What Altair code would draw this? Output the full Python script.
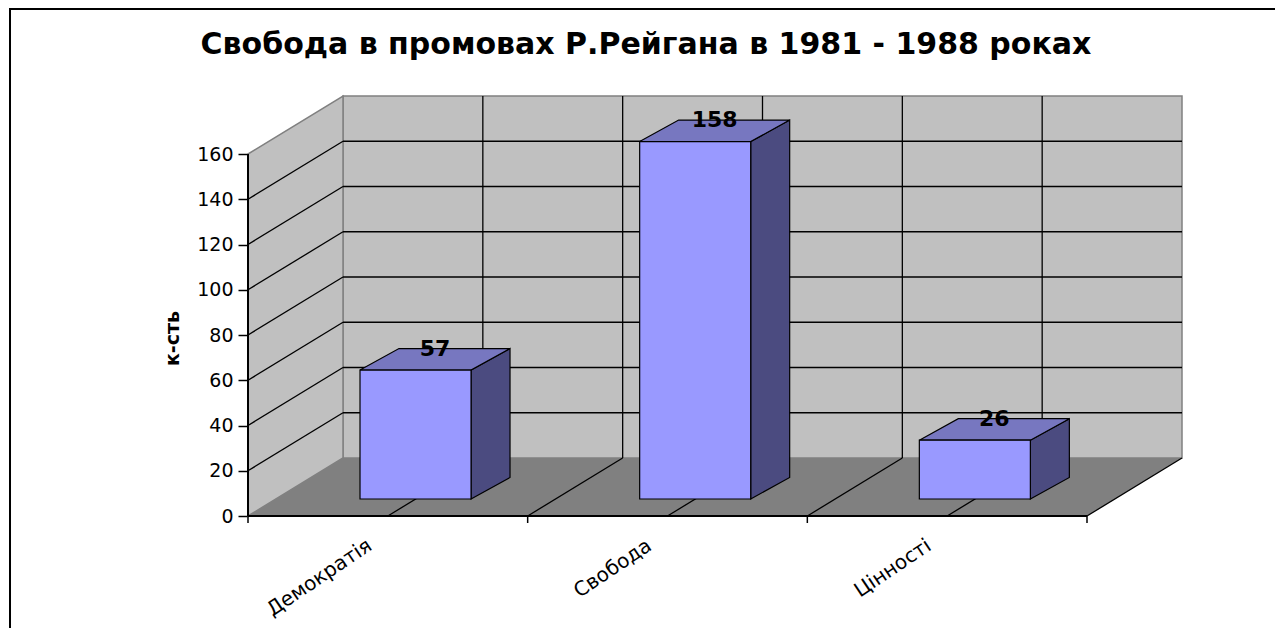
import json
import altair as alt
import pandas as pd

# ---------------- data ----------------
categories = ["Демократія", "Свобода", "Цінності"]
values = [57, 158, 26]
y_tick_values = [0, 20, 40, 60, 80, 100, 120, 140, 160]
chart_title = "Свобода в промовах Р.Рейгана в 1981 - 1988 роках"
y_title = "к-сть"

# ---------------- style / 3-D geometry constants ----------------
FONT = "DejaVu Sans"
N = len(categories)
YMAX = y_tick_values[-1]
WALL_DX = 0.3397     # depth of the chart box, in category units
WALL_DY = 25.64      # depth of the chart box, in value units
BAR_X0 = 0.4005      # bar front-face start inside its category
BAR_W = 0.397        # bar front-face width
BAR_Z = 7.51         # lift of the bar front face (its depth position)
BAR_DX = 0.1394      # bar depth, category units
BAR_DY = 9.5         # bar depth, value units
TICK_LEN = 3.1
XMAX = N + WALL_DX
YTOP = YMAX + WALL_DY
BORDER = dict(x=-0.851, x2=4.6, y=-80.0, y2=224.1)

WALL = "#c0c0c0"
FLOOR = "#808080"
EDGE = "#808080"
FRONT = "#9999ff"
TOPC = "#7777c0"
SIDE = "#4b4b80"

xs = alt.Scale(domain=[0, XMAX], nice=False, zero=False)
ys = alt.Scale(domain=[0, YTOP], nice=False, zero=False)

label_expr = json.dumps(categories, ensure_ascii=False) + "[floor(datum.value)]"

x_axis = alt.Axis(
    values=[i + 0.5 for i in range(N)], labelExpr=label_expr, ticks=False, tickSize=0,
    domain=False, grid=False, labelAngle=326, labelAlign="right", labelBaseline="top",
    labelFont=FONT, labelFontSize=20, labelColor="black", labelPadding=19,
    labelOffset=-24, labelOverlap=False, labelFlush=False, labelBound=False, title=None,
)
y_axis = alt.Axis(
    values=y_tick_values, domain=False, grid=False, ticks=True, tickSize=10,
    tickColor="black", tickWidth=1.5, labelFont=FONT, labelFontSize=19,
    labelColor="black", labelPadding=5, labelFlush=False, labelOverlap=False,
    title=y_title, titleFont=FONT, titleFontSize=19, titleFontWeight="bold",
    titleColor="black", titleAngle=270, titleX=-76, titleY=242,
    titleAlign="center", titleBaseline="middle",
)


def X(f):
    return alt.X(f, type="quantitative", scale=xs, axis=x_axis)


def Y(f):
    return alt.Y(f, type="quantitative", scale=ys, axis=y_axis, stack=None)


# ---------------- walls & floor ----------------
back_df = pd.DataFrame({"x": [WALL_DX], "x2": [XMAX], "y": [WALL_DY], "y2": [YTOP]})
back_wall = alt.Chart(back_df).mark_rect(fill=WALL, stroke=EDGE, strokeWidth=1.5).encode(
    x=X("x"), x2="x2:Q", y=Y("y"), y2="y2:Q"
)

left_df = pd.DataFrame({"x": [0, WALL_DX], "y": [0, WALL_DY], "y2": [YMAX, YTOP]})
left_wall = alt.Chart(left_df).mark_area(
    orient="vertical", fill=WALL, stroke=EDGE, strokeWidth=1.5
).encode(x=X("x"), y=Y("y"), y2="y2:Q")

floor_df = pd.DataFrame({
    "x": [0, WALL_DX, N, XMAX],
    "y": [0, 0, 0, WALL_DY],
    "y2": [0, WALL_DY, WALL_DY, WALL_DY],
})
floor = alt.Chart(floor_df).mark_area(orient="vertical", fill=FLOOR).encode(
    x=X("x"), y=Y("y"), y2="y2:Q"
)

# ---------------- grid lines, axis lines, ticks ----------------
segs = []
for v in y_tick_values[1:-1]:
    segs.append(dict(x=WALL_DX, x2=XMAX, y=v + WALL_DY, y2=v + WALL_DY, c="black", w=1.3))
    segs.append(dict(x=0, x2=WALL_DX, y=v, y2=v + WALL_DY, c="black", w=1.3))
for j in range(1, 2 * N):
    xv = WALL_DX + 0.5 * j
    segs.append(dict(x=xv, x2=xv, y=WALL_DY, y2=YTOP, c="black", w=1.3))
for j in range(1, 2 * N + 1):
    segs.append(dict(x=0.5 * j, x2=0.5 * j + WALL_DX, y=0, y2=WALL_DY, c="black", w=1.3))
segs.append(dict(x=0, x2=N, y=0, y2=0, c="black", w=2.2))
segs.append(dict(x=0, x2=0, y=0, y2=YMAX, c="black", w=2))
for i in range(N + 1):
    segs.append(dict(x=i, x2=i, y=0, y2=-TICK_LEN, c="black", w=1.5))
seg_df = pd.DataFrame(segs)
grid = alt.Chart(seg_df).mark_rule().encode(
    x=X("x"), x2="x2:Q", y=Y("y"), y2="y2:Q",
    color=alt.Color("c:N", scale=None),
    strokeWidth=alt.StrokeWidth("w:Q", scale=None),
)

# ---------------- bars ----------------
bar_rows, top_rows, side_rows = [], [], []
for i, (cat, v) in enumerate(zip(categories, values)):
    x0 = i + BAR_X0
    x1 = x0 + BAR_W
    t = v + BAR_Z
    bar_rows.append(dict(cat=cat, v=v, x0=x0, x1=x1, yb=BAR_Z, yt=t,
                         lx=x0 + BAR_W / 2 + BAR_DX / 2, ly=t + BAR_DY))
    for xx, lo, hi in [(x0, t, t), (x0 + BAR_DX, t, t + BAR_DY),
                       (x1, t, t + BAR_DY), (x1 + BAR_DX, t + BAR_DY, t + BAR_DY)]:
        top_rows.append(dict(cat=cat, x=xx, y=lo, y2=hi))
    for xx, lo, hi in [(x1, BAR_Z, t), (x1 + BAR_DX, BAR_Z + BAR_DY, t + BAR_DY)]:
        side_rows.append(dict(cat=cat, x=xx, y=lo, y2=hi))
bar_df = pd.DataFrame(bar_rows)
top_df = pd.DataFrame(top_rows)
side_df = pd.DataFrame(side_rows)

bar_side = alt.Chart(side_df).mark_area(
    orient="vertical", fill=SIDE, stroke="black", strokeWidth=1.2
).encode(x=X("x"), y=Y("y"), y2="y2:Q", detail="cat:N")

bar_top = alt.Chart(top_df).mark_area(
    orient="vertical", fill=TOPC, stroke="black", strokeWidth=1.2
).encode(x=X("x"), y=Y("y"), y2="y2:Q", detail="cat:N")

bar_front = alt.Chart(bar_df).mark_rect(fill=FRONT, stroke="black", strokeWidth=1.2).encode(
    x=X("x0"), x2="x1:Q", y=Y("yb"), y2="yt:Q"
)

labels = alt.Chart(bar_df).mark_text(
    font=FONT, fontSize=22, fontWeight="bold", color="black",
    align="center", baseline="middle"
).encode(x=X("lx"), y=Y("ly"), text="v:Q")

# ---------------- outer frame ----------------
frame_df = pd.DataFrame({k: [v] for k, v in BORDER.items()})
frame = alt.Chart(frame_df).mark_rect(fillOpacity=0, stroke="black", strokeWidth=2).encode(
    x=X("x"), x2="x2:Q", y=Y("y"), y2="y2:Q"
)

chart = alt.layer(
    back_wall, left_wall, floor, grid, bar_side, bar_top, bar_front, labels, frame
).properties(
    width=934,
    height=420,
    background="white",
    padding={"left": 240, "top": 88, "right": 93, "bottom": 112},
    autosize=alt.AutoSizeParams(type="none"),
    title=alt.TitleParams(
        text=chart_title, font=FONT, fontSize=30, fontWeight="bold", color="black",
        anchor="middle", frame="group", dx=-69, offset=-76, baseline="alphabetic",
    ),
).configure_view(stroke="transparent", strokeWidth=0)

chart.save("out.html", embed_options={"renderer": "svg", "actions": False})
